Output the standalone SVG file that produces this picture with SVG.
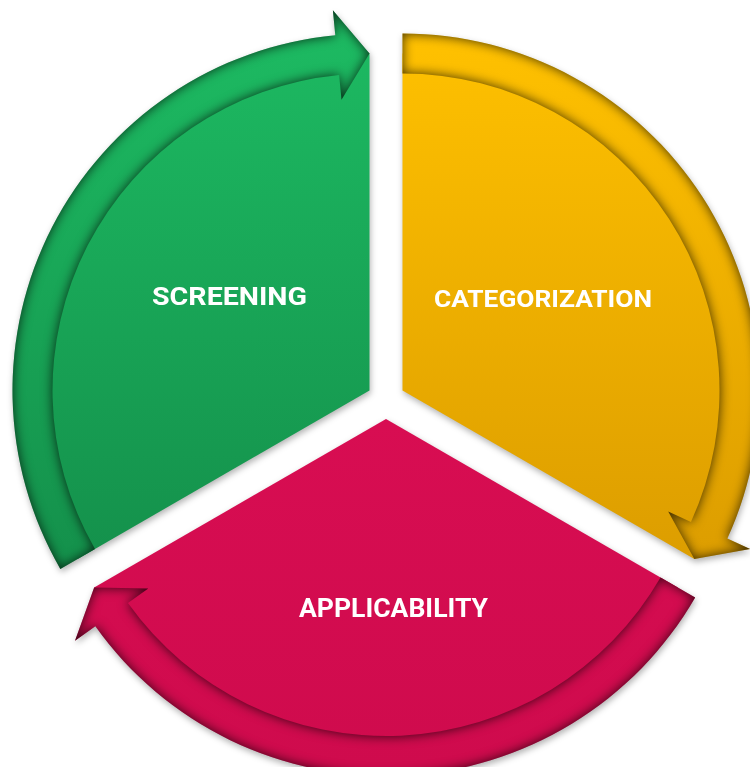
<svg xmlns="http://www.w3.org/2000/svg" width="750" height="767" viewBox="0 0 750 767">
  <defs>
    <linearGradient id="gGreen" gradientUnits="userSpaceOnUse" x1="0" y1="30" x2="0" y2="570">
      <stop offset="0" stop-color="#1dba62"/>
      <stop offset="1" stop-color="#14904b"/>
    </linearGradient>
    <linearGradient id="gYellow" gradientUnits="userSpaceOnUse" x1="0" y1="35" x2="0" y2="565">
      <stop offset="0" stop-color="#ffc100"/>
      <stop offset="1" stop-color="#dc9d00"/>
    </linearGradient>
    <linearGradient id="gPink" gradientUnits="userSpaceOnUse" x1="0" y1="420" x2="0" y2="767">
      <stop offset="0" stop-color="#d80d52"/>
      <stop offset="1" stop-color="#cf0b4d"/>
    </linearGradient>
    <filter id="inset" x="-10%" y="-10%" width="120%" height="120%" color-interpolation-filters="sRGB">
      <feComponentTransfer in="SourceAlpha" result="inv">
        <feFuncA type="table" tableValues="1 0"/>
      </feComponentTransfer>
      <feGaussianBlur in="inv" stdDeviation="6" result="blur"/>
      <feFlood flood-color="#000" flood-opacity="0.75"/>
      <feComposite in2="blur" operator="in" result="sh"/>
      <feComposite in="sh" in2="SourceAlpha" operator="in" result="ish"/>
      <feMerge>
        <feMergeNode in="SourceGraphic"/>
        <feMergeNode in="ish"/>
      </feMerge>
    </filter>
    <filter id="drop" x="-10%" y="-10%" width="120%" height="120%" color-interpolation-filters="sRGB">
      <feDropShadow dx="1" dy="3" stdDeviation="3" flood-color="#000" flood-opacity="0.3"/>
    </filter>
  </defs>
  <style>
    .lbl { font-family: Roboto, "Liberation Sans", Arial, sans-serif; font-weight: 700; fill: #ffffff; text-anchor: middle; }
    .arrow { filter: url(#inset); }
  </style>

  <g id="screening" filter="url(#drop)">
    <path d="M369.5,390.5 L77.65,559 A337,337 0 0 1 369.5,53.5 Z" fill="url(#gGreen)"/>
    <path class="arrow" d="M60.33,569 A357,357 0 0 1 335.28,35.14 L332.89,10.26 L369.5,53.5 L341.51,99.84 L339.12,74.96 A317,317 0 0 0 94.97,549 Z" fill="url(#gGreen)"/>
    <text class="lbl" x="229.5" y="305" font-size="26.5" textLength="155" lengthAdjust="spacingAndGlyphs">SCREENING</text>
  </g>

  <g id="categorization" filter="url(#drop)">
    <path d="M402.5,390.5 L402.5,53.5 A337,337 0 0 1 694.35,559 Z" fill="url(#gYellow)"/>
    <path class="arrow" d="M402.5,33.5 A357,357 0 0 1 727.36,538.54 L750.1,548.91 L694.35,559 L668.21,511.59 L690.96,521.96 A317,317 0 0 0 402.5,73.5 Z" fill="url(#gYellow)"/>
    <text class="lbl" x="543" y="307.3" font-size="23.5" textLength="218" lengthAdjust="spacingAndGlyphs">CATEGORIZATION</text>
  </g>

  <g id="applicability" filter="url(#drop)">
    <path d="M386,419 L677.85,587.5 A337,337 0 0 1 94.15,587.5 Z" fill="url(#gPink)"/>
    <path class="arrow" d="M695.17,597.5 A357,357 0 0 1 95.36,626.31 L75,640.83 L94.15,587.5 L148.28,588.56 L127.92,603.08 A317,317 0 0 0 660.53,577.5 Z" fill="url(#gPink)"/>
    <text class="lbl" x="393.5" y="617.3" font-size="25" textLength="189" lengthAdjust="spacingAndGlyphs">APPLICABILITY</text>
  </g>

  <g id="connectors"/>
</svg>
